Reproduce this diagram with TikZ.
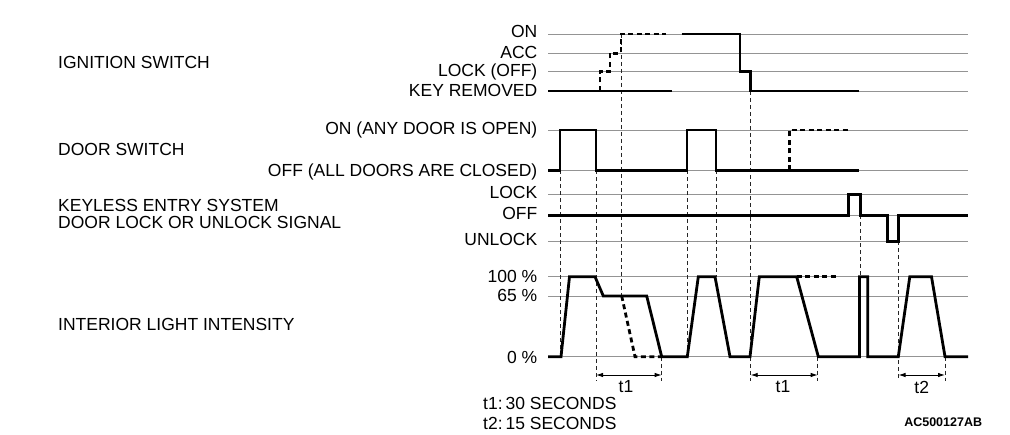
\documentclass[tikz,border=0pt]{standalone}
\usepackage{fontspec}
\setmainfont{Liberation Sans}
\usetikzlibrary{arrows.meta}
\begin{document}
\begin{tikzpicture}[x=1pt,y=-1pt,
  grid/.style={draw=black!42, line width=0.9pt},
  sig/.style={draw=black, line width=2.8pt, line join=miter},
  sigdash/.style={draw=black, line width=2.8pt, dash pattern=on 5pt off 3.5pt},
  guide/.style={draw=black!85, line width=0.8pt, dash pattern=on 4pt off 3pt},
  lbl/.style={font=\fontsize{17.5}{20}\selectfont, inner sep=0pt, anchor=base east},
  ttl/.style={font=\fontsize{17.5}{20}\selectfont, inner sep=0pt, anchor=base west},
  dimtxt/.style={font=\fontsize{17.5}{20}\selectfont, inner sep=0pt, anchor=base},
  dimarr/.style={draw=black, line width=0.9pt, {Latex[length=7pt,width=4.5pt]}-{Latex[length=7pt,width=4.5pt]}},
]
\useasboundingbox (0,0) rectangle (1010,435);

% ---- gray level lines ----
\foreach \yy in {34,53.3,71.7,91,130,170.3,194.5,215.5,241.5,276.7,296,356.7}
  \draw[grid] (548,\yy) -- (968,\yy);

% ---- left titles ----
\node[ttl] (tign) at (58,69) {IGNITION SWITCH};
\node[ttl] (tdoor) at (58,155.6) {DOOR SWITCH};
\node[ttl] (tkey1) at (58,211.2) {KEYLESS ENTRY SYSTEM};
\node[ttl] (tkey2) at (58,229) {DOOR LOCK OR UNLOCK SIGNAL};
\node[ttl] (tlight) at (58,330.2) {INTERIOR LIGHT INTENSITY};

% ---- level labels ----
\node[lbl] (lon) at (537.5,38) {ON};
\node[lbl] (lacc) at (537.5,58.5) {ACC};
\node[lbl] (llock) at (537.5,76.8) {LOCK (OFF)};
\node[lbl] (lkey) at (537.5,96.8) {KEY REMOVED};
\node[lbl] (ldon) at (537.5,135) {ON (ANY DOOR IS OPEN)};
\node[lbl] (ldoff) at (537.5,176.8) {OFF (ALL DOORS ARE CLOSED)};
\node[lbl] (lklock) at (537.5,198.5) {LOCK};
\node[lbl] (lkoff) at (537.5,220) {OFF};
\node[lbl] (lkunl) at (537.5,245.1) {UNLOCK};
\node[lbl] (l100) at (537.5,283) {100 \%};
\node[lbl] (l65) at (537.5,301.6) {65 \%};
\node[lbl] (l0) at (537.5,363.2) {0 \%};

% ---- guide lines ----
\draw[guide] (560,170.3) -- (560,356.7);
\draw[guide] (596,170.3) -- (596,381);
\draw[guide] (621.3,34) -- (621.3,296);
\draw[guide] (687,170.3) -- (687,356.7);
\draw[guide] (716,170.3) -- (716,276.7);
\draw[guide] (750.7,91) -- (750.7,381);
\draw[guide] (860.5,215.5) -- (860.5,276.7);
\draw[guide] (898.5,241.5) -- (898.5,381);
\draw[guide] (661.7,356.7) -- (661.7,381);
\draw[guide] (817.7,356.7) -- (817.7,381);
\draw[guide] (945,356.7) -- (945,381);

% ---- ignition switch ----
\draw[sig] (548,91) -- (671.7,91);
\draw[sigdash] (600,91) -- (600,71.7) -- (610,71.7) -- (610,53.3) -- (621,53.3) -- (621,34) -- (665.7,34);
\draw[sig] (681.7,34) -- (740,34) -- (740,71.7) -- (750.7,71.7) -- (750.7,91) -- (859.3,91);

% ---- door switch ----
\draw[sig] (548,170.3) -- (560,170.3) -- (560,130) -- (596,130) -- (596,170.3) -- (687,170.3) -- (687,130) -- (716,130) -- (716,170.3) -- (859.3,170.3);
\draw[sigdash] (789.3,170.3) -- (789.3,130) -- (848.3,130);

% ---- keyless entry ----
\draw[sig] (548,215.5) -- (848.3,215.5) -- (848.3,194.5) -- (860.5,194.5) -- (860.5,215.5) -- (887.5,215.5) -- (887.5,241.5) -- (898.7,241.5) -- (898.7,215.5) -- (968,215.5);

% ---- interior light ----
\draw[sig] (548,356.7) -- (561,356.7) -- (569.5,276.7) -- (595,276.7) -- (603.3,296) -- (646.7,296) -- (661.7,356.7) -- (687.3,356.7) -- (698.3,276.7) -- (715,276.7) -- (730,356.7) -- (750,356.7) -- (759.3,276.7) -- (796.7,276.7) -- (818.3,356.7) -- (859.5,356.7) -- (859.5,276.7) -- (867.7,276.7) -- (867.7,356.7) -- (898.3,356.7) -- (909.8,276.7) -- (931.5,276.7) -- (945,356.7) -- (968,356.7);
\draw[sigdash] (621.7,296) -- (635,356.7) -- (661.7,356.7);
\draw[sigdash] (796.7,276.7) -- (836.7,276.7);

% ---- time spans ----
\coordinate (a1) at (596,375);
\coordinate (b1) at (661.7,375);
\coordinate (a2) at (750.7,375);
\coordinate (b2) at (817.7,375);
\coordinate (a3) at (898.5,375);
\coordinate (b3) at (945,375);
\draw[dimarr] (a1) -- (b1);
\draw[dimarr] (a2) -- (b2);
\draw[dimarr] (a3) -- (b3);
\node[dimtxt] (d1) at (626,393) {t1};
\node[dimtxt] (d2) at (783,393) {t1};
\node[dimtxt] (d3) at (921.7,393.8) {t2};

% ---- notes ----
\node[ttl] (n1) at (483,410) {t1:\,30 SECONDS};
\node[ttl] (n2) at (483,429.8) {t2:\,15 SECONDS};
\node[font=\bfseries\fontsize{12.5}{14}\selectfont, inner sep=0pt, anchor=base east] (code) at (982.3,426.2) {AC500127AB};
\end{tikzpicture}
\end{document}
